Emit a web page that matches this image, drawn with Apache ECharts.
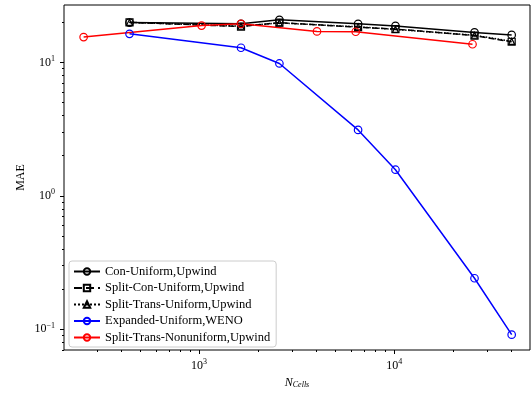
<!DOCTYPE html>
<html>
<head>
<meta charset="utf-8">
<script src="https://cdn.jsdelivr.net/npm/echarts@6/dist/echarts.min.js"></script>
<style>
  html, body { margin: 0; padding: 0; background: #fff; }
  #chart { width: 531px; height: 394px; }
</style>
</head>
<body>
<div id="chart"></div>
<script>
// number of cells for the uniform runs and the nonuniform run
const cellsUniform = [440, 1640, 2580, 6530, 10150, 25800, 40000];
const cellsNonuniform = [256, 1030, 1640, 4020, 6350, 25200];

// MAE values
const conUniform = [19.9, 19.5, 20.9, 19.5, 18.8, 16.8, 16.1];
const splitConUniform = [20.0, 18.6, 19.9, 18.4, 17.8, 15.9, 14.3];
const splitTransUniform = [20.0, 18.7, 19.8, 18.5, 17.7, 16.0, 14.4];
const expandedWeno = [16.4, 12.9, 9.83, 3.12, 1.57, 0.241, 0.091];
const splitTransNonuniform = [15.5, 18.9, 19.5, 17.1, 17.0, 13.7];

const xMajor = [3, 4];
const yMajor = [-1, 0, 1];

const FONT = 'Liberation Serif';
const xMin = 2.3077, xMax = 4.696;
const yMin = -1.156, yMax = 1.431;

// minor ticks of a log axis: log10(k * 10^n)
function minorTicks(lo, hi) {
  const out = [];
  for (let n = Math.floor(lo); n <= Math.ceil(hi); n++) {
    for (let k = 2; k <= 9; k++) {
      const v = n + Math.log10(k);
      if (v >= lo && v <= hi) out.push(v);
    }
  }
  return out;
}

const pairs = (xs, ys) => xs.map((x, i) => [Math.log10(x), Math.log10(ys[i])]);

const powLabel = v => '{b|10}{s|' + String(Math.round(v)).replace('-', '\u2212') + '}';
const richPow = {
  b: { fontFamily: FONT, fontSize: 12, color: '#000' },
  s: { fontFamily: FONT, fontSize: 8, color: '#000', padding: [0, 0, 7, 0] },
};

const mkSeries = (name, xs, ys, color, symbol, type, size) => ({
  name: name,
  type: 'line',
  data: pairs(xs, ys),
  symbol: symbol,
  symbolSize: size,
  lineStyle: { color: color, width: 1.5, type: type },
  itemStyle: { color: 'rgba(0,0,0,0)', borderColor: color, borderWidth: 1.2 },
  emphasis: { disabled: true },
});

const option = {
  animation: false,
  grid: {
    left: 64, top: 5, right: 1, bottom: 41,
    show: true, borderColor: '#000', borderWidth: 1,
  },
  xAxis: [
    {
      type: 'value', min: xMin, max: xMax, position: 'bottom',
      axisLine: { show: false, onZero: false },
      splitLine: { show: false },
      axisTick: { length: 4, lineStyle: { color: '#000' }, customValues: xMajor },
      axisLabel: { margin: 8, formatter: powLabel, rich: richPow, customValues: xMajor },
      name: '{i|N}{sub|Cells}',
      nameLocation: 'middle',
      nameGap: 26,
      nameTextStyle: {
        rich: {
          i: { fontFamily: FONT, fontStyle: 'italic', fontSize: 12, color: '#000' },
          sub: { fontFamily: FONT, fontStyle: 'italic', fontSize: 8, color: '#000', padding: [5, 0, 0, 0] },
        },
      },
    },
    {
      type: 'value', min: xMin, max: xMax, position: 'bottom',
      axisLine: { show: false, onZero: false },
      splitLine: { show: false },
      axisTick: { length: 2, lineStyle: { color: '#000' }, customValues: minorTicks(xMin, xMax) },
      axisLabel: { show: false },
    },
  ],
  yAxis: [
    {
      type: 'value', min: yMin, max: yMax, position: 'left',
      axisLine: { show: false, onZero: false },
      splitLine: { show: false },
      axisTick: { length: 4, lineStyle: { color: '#000' }, customValues: yMajor },
      axisLabel: { margin: 9, formatter: powLabel, rich: richPow, customValues: yMajor },
      name: 'MAE',
      nameLocation: 'middle',
      nameGap: 37,
      nameMoveOverlap: false,
      nameTextStyle: { fontFamily: FONT, fontSize: 12, color: '#000' },
    },
    {
      type: 'value', min: yMin, max: yMax, position: 'left',
      axisLine: { show: false, onZero: false },
      splitLine: { show: false },
      axisTick: { length: 2, lineStyle: { color: '#000' }, customValues: minorTicks(yMin, yMax) },
      axisLabel: { show: false },
    },
  ],
  legend: {
    orient: 'vertical',
    left: 69, top: 261,
    backgroundColor: '#fff',
    borderColor: '#cccccc',
    borderWidth: 1,
    borderRadius: 3,
    padding: [4, 6, 3, 4],
    itemWidth: 26,
    itemHeight: 8,
    itemGap: 3.5,
    textStyle: { fontFamily: FONT, fontSize: 12.5, color: '#000' },
  },
  series: [
    mkSeries('Con-Uniform,Upwind', cellsUniform, conUniform, '#000', 'circle', 'solid', 7.5),
    mkSeries('Split-Con-Uniform,Upwind', cellsUniform, splitConUniform, '#000', 'rect', 'dashed', 7),
    mkSeries('Split-Trans-Uniform,Upwind', cellsUniform, splitTransUniform, '#000', 'triangle', 'dotted', 6),
    mkSeries('Expanded-Uniform,WENO', cellsUniform, expandedWeno, '#0000ff', 'circle', 'solid', 7.5),
    mkSeries('Split-Trans-Nonuniform,Upwind', cellsNonuniform, splitTransNonuniform, '#ff0000', 'circle', 'solid', 7.5),
  ],
};

const chart = echarts.init(document.getElementById('chart'));
chart.setOption(option);
</script>
</body>
</html>
